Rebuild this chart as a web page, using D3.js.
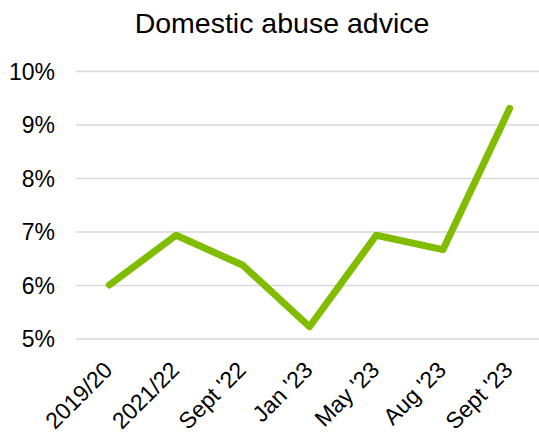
<!DOCTYPE html>
<html>
<head>
<meta charset="utf-8">
<script src="https://cdn.jsdelivr.net/npm/d3@7"></script>
<style>
  html, body { margin: 0; padding: 0; background: #fff; }
  svg { display: block; }
  text { font-family: "Liberation Sans", Arial, sans-serif; fill: #000; }
</style>
</head>
<body>
<svg id="chart" width="539" height="435"></svg>
<script>
// Share of advice given on domestic abuse, by period
const periods = ["2019/20", "2021/22", "Sept '22", "Jan '23", "May '23", "Aug '23", "Sept '23"];
const shares = [6.0, 6.93, 6.37, 5.22, 6.93, 6.66, 9.3];
const yTicks = [5, 6, 7, 8, 9, 10];
const titleText = "Domestic abuse advice";

const svg = d3.select("#chart");
const W = 539, H = 435;
const plot = { left: 76, right: 543, top: 71, bottom: 338.5 };

const x = d3.scalePoint()
  .domain(periods)
  .range([plot.left, plot.right])
  .padding(0.5);

const y = d3.scaleLinear()
  .domain([5, 10])
  .range([plot.bottom, plot.top]);

// Title
svg.append("text")
  .attr("x", 282)
  .attr("y", 33)
  .attr("text-anchor", "middle")
  .style("font-size", "28.5px")
  .text(titleText);

// Horizontal gridlines
const yAxis = d3.axisLeft(y)
  .tickValues(yTicks)
  .tickSize(-(W - plot.left))
  .tickPadding(21)
  .tickFormat(d => d + "%");

const gy = svg.append("g")
  .attr("transform", `translate(${plot.left},0)`)
  .call(yAxis);
gy.select(".domain").remove();
gy.selectAll(".tick line").attr("stroke", "#d9d9d9").attr("stroke-width", 1.5);
gy.selectAll(".tick text").style("font-size", "23px").attr("dy", "0.35em");

// Category axis with rotated labels
const xAxis = d3.axisBottom(x).tickSize(0).tickPadding(0);
const gx = svg.append("g")
  .attr("transform", `translate(0,${plot.bottom})`)
  .call(xAxis);
gx.select(".domain").remove();
gx.selectAll(".tick text")
  .style("font-size", "23px")
  .attr("text-anchor", "end")
  .attr("dy", "0")
  .attr("transform", "translate(4,33) rotate(-45)");

// Data line
const line = d3.line()
  .x((d, i) => x(periods[i]))
  .y(d => y(d));

svg.append("path")
  .datum(shares)
  .attr("d", line)
  .attr("fill", "none")
  .attr("stroke", "#80bc00")
  .attr("stroke-width", 7)
  .attr("stroke-linecap", "round")
  .attr("stroke-linejoin", "round");
</script>
</body>
</html>
